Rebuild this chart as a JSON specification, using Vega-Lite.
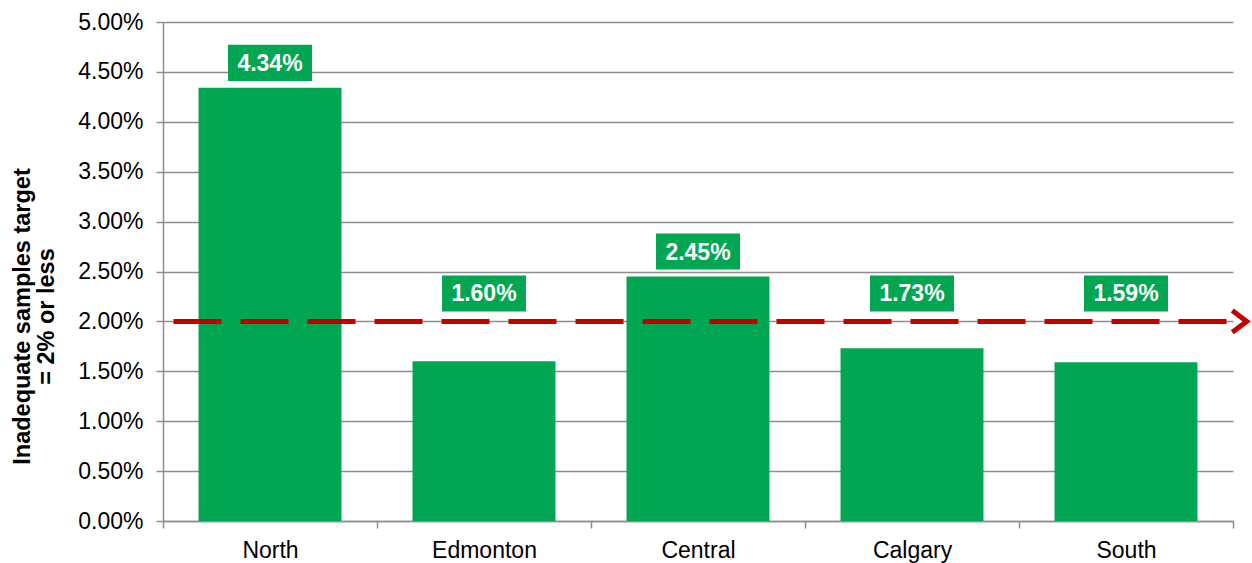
{
  "$schema": "https://vega.github.io/schema/vega-lite/v6.json",
  "width": 1070,
  "height": 499,
  "autosize": {"type": "none"},
  "padding": {"left": 163, "top": 22, "right": 19, "bottom": 42},
  "background": "white",
  "config": {
    "font": "Liberation Sans",
    "view": {"stroke": null},
    "axis": {
      "domainColor": "#8E8E8E",
      "domainWidth": 1.5,
      "tickColor": "#8E8E8E",
      "tickWidth": 1.5,
      "tickSize": 7,
      "gridColor": "#8E8E8E",
      "gridWidth": 1.5,
      "labelColor": "#000000",
      "labelFontSize": 23,
      "labelFont": "Liberation Sans"
    }
  },
  "data": {
    "values": [
      {"region": "North", "value": 0.0434},
      {"region": "Edmonton", "value": 0.016},
      {"region": "Central", "value": 0.0245},
      {"region": "Calgary", "value": 0.0173},
      {"region": "South", "value": 0.0159}
    ]
  },
  "transform": [
    {"calculate": "max(datum.value, 0.0203) + 0.0025", "as": "labelPos"}
  ],
  "layer": [
    {
      "mark": {"type": "bar", "color": "#00A651", "width": {"band": 0.668}},
      "encoding": {
        "x": {
          "field": "region",
          "type": "nominal",
          "scale": {
            "domain": ["North", "Edmonton", "Central", "Calgary", "South"],
            "paddingInner": 0,
            "paddingOuter": 0
          },
          "axis": {
            "title": null,
            "labelAngle": 0,
            "tickBand": "extent",
            "labelBaseline": "alphabetic",
            "labelPadding": 29,
            "grid": false
          }
        },
        "y": {
          "field": "value",
          "type": "quantitative",
          "scale": {"domain": [0, 0.05], "nice": false},
          "axis": {
            "values": [0, 0.005, 0.01, 0.015, 0.02, 0.025, 0.03, 0.035, 0.04, 0.045, 0.05],
            "format": ".2%",
            "grid": true,
            "labelPadding": 13,
            "title": ["Inadequate samples target", "= 2% or less"],
            "titleFontSize": 23.5,
            "titleFontWeight": "bold",
            "titleColor": "#000000",
            "titleAngle": -90,
            "titleAlign": "center",
            "titleBaseline": "middle",
            "titleLineHeight": 24,
            "titleX": -141,
            "titleY": 294
          }
        }
      }
    },
    {
      "data": {"values": [{"target": 0.02}]},
      "mark": {
        "type": "rule",
        "color": "#C00000",
        "strokeWidth": 5,
        "strokeDash": [48, 19],
        "strokeDashOffset": 56.5,
        "xOffset": -107,
        "x2Offset": 113.5
      },
      "encoding": {
        "x": {"datum": "North", "type": "nominal"},
        "x2": {"datum": "South"},
        "y": {"field": "target", "type": "quantitative"}
      }
    },
    {
      "data": {"values": [{"target": 0.02}]},
      "mark": {
        "type": "point",
        "shape": "M-0.6,-0.9L0.6,0L-0.6,0.9",
        "size": 576,
        "filled": false,
        "stroke": "#C00000",
        "strokeWidth": 5,
        "opacity": 1,
        "xOffset": 113.5
      },
      "encoding": {
        "x": {"datum": "South", "type": "nominal"},
        "y": {"field": "target", "type": "quantitative"}
      }
    },
    {
      "mark": {
        "type": "point",
        "shape": "M-1,-0.43L1,-0.43L1,0.43L-1,0.43Z",
        "size": 7056,
        "filled": true,
        "color": "#00A651",
        "opacity": 1,
        "strokeWidth": 0
      },
      "encoding": {
        "x": {"field": "region", "type": "nominal"},
        "y": {"field": "labelPos", "type": "quantitative"}
      }
    },
    {
      "mark": {
        "type": "text",
        "color": "white",
        "fontWeight": "bold",
        "fontSize": 23,
        "baseline": "middle",
        "align": "center",
        "dy": 1
      },
      "encoding": {
        "x": {"field": "region", "type": "nominal"},
        "y": {"field": "labelPos", "type": "quantitative"},
        "text": {"field": "value", "type": "quantitative", "format": ".2%"}
      }
    }
  ]
}
